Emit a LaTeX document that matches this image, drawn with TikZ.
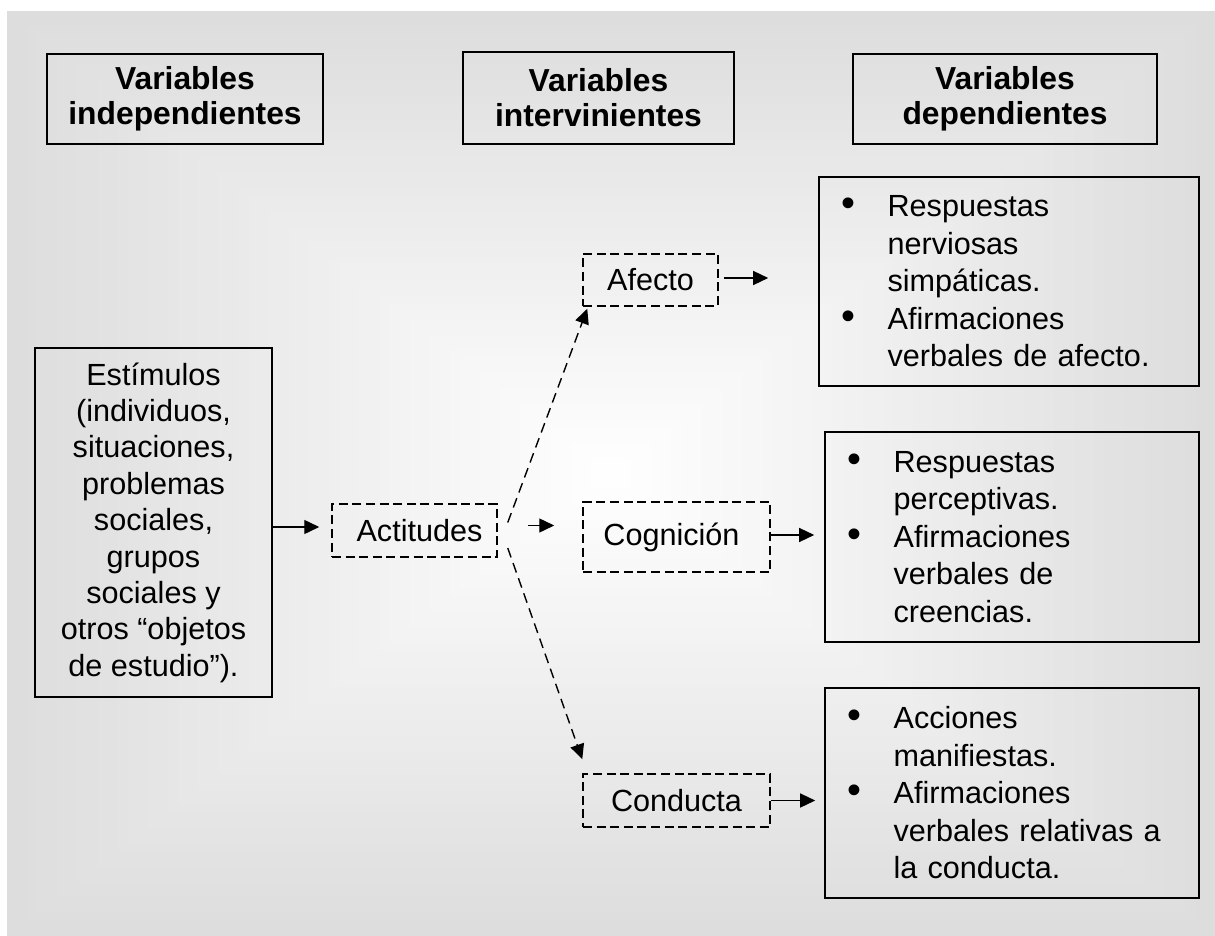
\documentclass[tikz,border=0pt]{standalone}
\usepackage{fontspec}
\setmainfont{Liberation Sans}
\usepackage{tikz}
\usetikzlibrary{arrows.meta}
\usetikzlibrary{positioning}
\tikzset{caja/.style = {draw, line width=0.8pt, inner sep=0pt, align=center}}
\tikzset{cabeza/.style = {caja, font=\bfseries\fontsize{15.9}{17.5}\selectfont, minimum height=45pt}}
\tikzset{cajad/.style = {draw, line width=0.75pt, dash pattern=on 4.5pt off 2.3pt,
                         inner sep=0pt, align=center}}
\tikzset{flecha/.style = {-{Triangle[length=7.5pt, width=7pt]}, line width=0.7pt}}
\tikzset{guion/.style = {dash pattern=on 5pt off 3pt}}
\tikzset{lista/.style = {caja, align=left, inner xsep=11.3pt, inner ysep=0pt}}
\definecolor{fondo}{gray}{0.866}
\newcommand{\bala}{\makebox[23pt][l]{\scalebox{1.3}{\textbullet}}}
\newcommand{\sangria}{\hspace*{23pt}}

\begin{document}
\begin{tikzpicture}[x=0.5pt, y=-0.5pt,
    font=\fontsize{15.3}{18.75}\selectfont]
    \useasboundingbox (0, 0) rectangle (1215, 936);

    % fondo degradado desde el centro
    \foreach \i in {60,59,...,1} {
      \pgfmathsetmacro{\p}{100*\i/60}
      \fill [fondo!\p!white] ({611-10.0667*\i}, {473.5-7.7083*\i})
        rectangle ({611+10.0667*\i}, {473.5+7.7083*\i});
    }

    \node [cabeza, minimum width=138pt] (indep) at (185, 99) {Variables\\independientes};
    \node [cabeza, minimum width=135.5pt, minimum height=46pt] (interv) at (598.5, 98) {Variables\\intervinientes};
    \node [cabeza, minimum width=152pt] (dep) at (1005, 99) {Variables\\dependientes};

    \node [caja, font=\fontsize{15.3}{18.2}\selectfont, minimum width=118.5pt, minimum height=174.5pt]
      (estimulos) at (153.5, 522.5) {Estímulos\\(individuos,\\situaciones,\\problemas\\sociales,\\grupos\\sociales y\\otros “objetos\\de estudio”).};

    \node [cajad, minimum width=82.5pt, minimum height=26.5pt] (actitudes) at (414.5, 530.5) {\hspace*{5pt}Actitudes};
    \node [cajad, minimum width=67.5pt, minimum height=26pt] (afecto) at (650.5, 280) {Afecto};
    \node [cajad, minimum width=93.5pt, minimum height=35pt] (cognicion) at (676.5, 537) {Cognición\hspace*{5pt}};
    \node [cajad, minimum width=93.5pt, minimum height=26.5pt] (conducta) at (676.5, 800.5) {Conducta};

    \node [lista, text width=167.4pt, minimum height=104.5pt] (resafecto) at (1009, 281.5)
      {\bala Respuestas\\\sangria nerviosas\\\sangria simpáticas.\\\bala Afirmaciones\\\sangria verbales de afecto.};
    \node [lista, text width=164.4pt, minimum height=105pt] (rescognicion) at (1012, 537)
      {\bala Respuestas\\\sangria perceptivas.\\\bala Afirmaciones\\\sangria verbales de\\\sangria creencias.};
    \node [lista, text width=164.4pt, minimum height=105pt] (resconducta) at (1012, 793)
      {\bala Acciones\\\sangria manifiestas.\\\bala Afirmaciones\\\sangria verbales relativas a\\\sangria la conducta.};

    \draw [flecha, shorten >=6pt] ([yshift=1.75pt] estimulos.east |- actitudes.west) -- ([yshift=1.75pt] actitudes.west);
    \draw [flecha, shorten <=15pt, shorten >=14pt] ([yshift=2.5pt] actitudes.east) -- ([yshift=2.5pt] actitudes.east -| cognicion.west);
    \draw [flecha, guion] ([xshift=5pt, yshift=4pt] actitudes.east) -- ([xshift=2.5pt, yshift=-1pt] afecto.south west);
    \draw [flecha, guion] ([xshift=5pt, yshift=-8.75pt] actitudes.east) -- ([yshift=7pt] conducta.north west);

    \draw [flecha, shorten <=2.5pt, shorten >=25pt] ([yshift=1pt] afecto.east) -- ([yshift=1pt] afecto.east -| resafecto.west);
    \draw [flecha, shorten >=5pt] ([yshift=1pt] cognicion.east) -- ([yshift=1pt] cognicion.east -| rescognicion.west);
    \draw [flecha, shorten >=4.5pt] (conducta.east) -- (conducta.east -| resconducta.west);
  \end{tikzpicture}
\end{document}
